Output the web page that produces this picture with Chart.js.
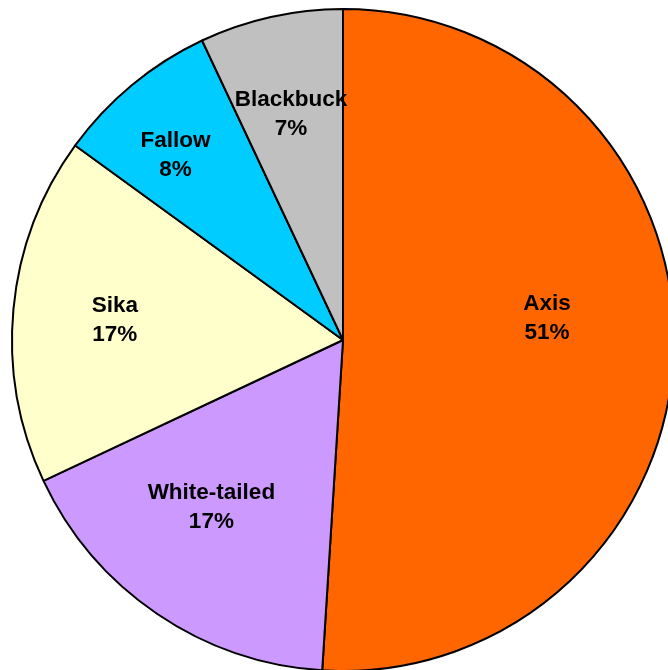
<!DOCTYPE html>
<html>
<head>
<meta charset="utf-8">
<script src="https://cdn.jsdelivr.net/npm/chart.js@4/dist/chart.umd.min.js"></script>
<style>
  html, body { margin: 0; padding: 0; background: #fff; overflow: hidden; }
  #wrap { position: absolute; left: 0; top: 0; width: 686px; height: 680px; }
</style>
</head>
<body>
<div id="wrap"><canvas id="deer-chart" width="686" height="680"></canvas></div>
<script>
const species = ['Axis', 'White-tailed', 'Sika', 'Fallow', 'Blackbuck'];
const shares = [51, 17, 17, 8, 7];
const sliceColors = ['#FF6600', '#CC99FF', '#FFFFCC', '#00CCFF', '#C0C0C0'];

// label nudges: [angle shift in degrees, fraction of radius]
const labelSpots = [[-7.9, 0.62], [4, 0.643], [-0.4, 0.692], [-2.6, 0.753], [-0.4, 0.699]];

const sliceLabels = {
    id: 'sliceLabels',
    afterDatasetsDraw(chart) {
        const ctx = chart.ctx;
        const arcs = chart.getDatasetMeta(0).data;
        ctx.save();
        ctx.font = 'bold 22.5px "Liberation Sans", Arial, sans-serif';
        ctx.fillStyle = '#000';
        ctx.textAlign = 'center';
        ctx.textBaseline = 'middle';
        arcs.forEach((arc, i) => {
            const p = arc.getProps(['x', 'y', 'startAngle', 'endAngle', 'outerRadius'], true);
            const ang = (p.startAngle + p.endAngle) / 2 + labelSpots[i][0] * Math.PI / 180;
            const r = p.outerRadius * labelSpots[i][1];
            const x = p.x + Math.cos(ang) * r;
            const y = p.y + Math.sin(ang) * r;
            ctx.fillText(species[i], x, y - 14.5);
            ctx.fillText(shares[i] + '%', x, y + 14.5);
        });
        ctx.restore();
    }
};

new Chart(document.getElementById('deer-chart').getContext('2d'), {
    type: 'pie',
    data: {
        labels: species,
        datasets: [{
            data: shares,
            backgroundColor: sliceColors,
            borderColor: '#000',
            borderWidth: 2
        }]
    },
    options: {
        responsive: false,
        animation: false,
        layout: { padding: 8 },
        plugins: {
            legend: { display: false },
            tooltip: { enabled: false }
        }
    },
    plugins: [sliceLabels]
});
</script>
</body>
</html>
